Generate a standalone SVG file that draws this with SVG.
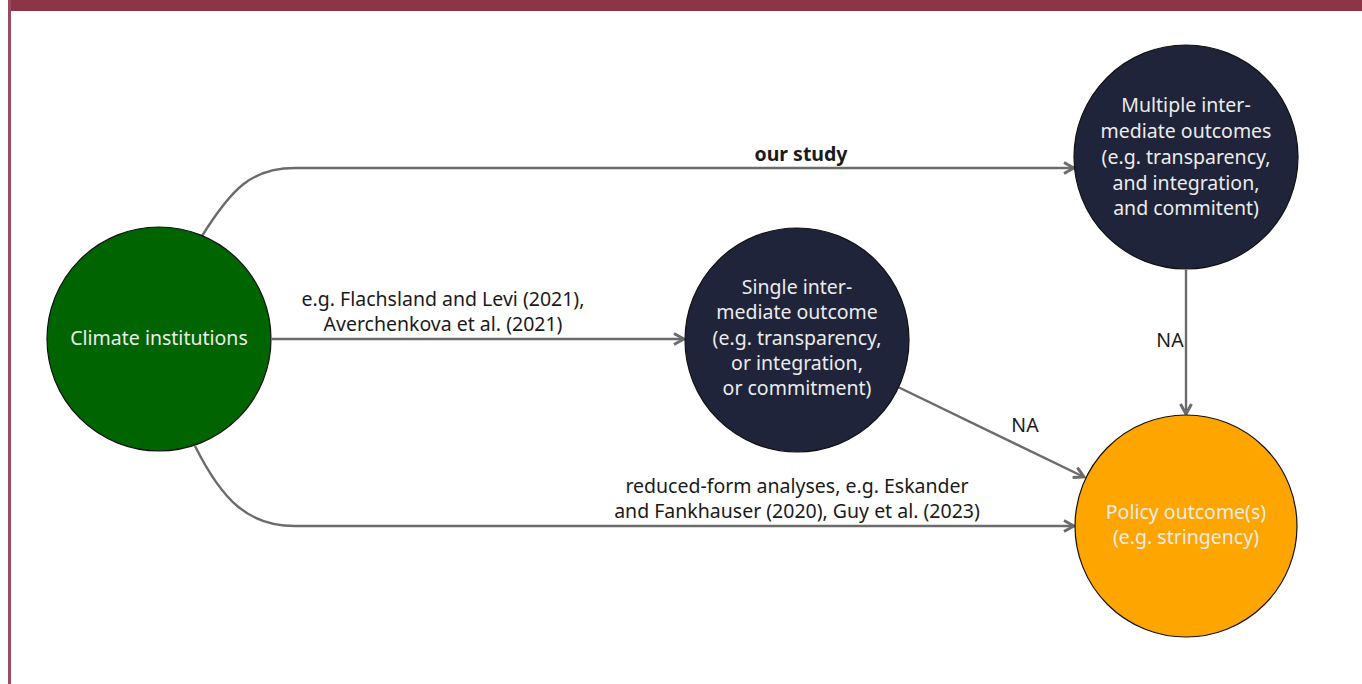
<svg xmlns="http://www.w3.org/2000/svg" width="1362" height="684" viewBox="0 0 1362 684">
<style>
.edge{fill:none;stroke:#6b6b6b;stroke-width:2.4}
.lbl{font-family:"Noto Sans","Open Sans",sans-serif;font-size:19.5px;fill:#1a1a1a;text-anchor:middle}
.nt{font-family:"Noto Sans","Open Sans",sans-serif;font-size:19.5px;fill:#ececec;text-anchor:middle}
.node{stroke:#111;stroke-width:1.2}
</style>
<defs>
<marker id="ah" viewBox="0 0 14 14" refX="12" refY="7" markerWidth="14" markerHeight="14" markerUnits="userSpaceOnUse" orient="auto">
<path d="M2,1.5 L12,7 L2,12.5" fill="none" stroke="#6b6b6b" stroke-width="3" stroke-linejoin="miter"/>
</marker>
</defs>
<rect x="0" y="0" width="1362" height="684" fill="#fff"/>
<rect x="8" y="0" width="1354" height="11" fill="#8b3547"/>
<rect x="8" y="0" width="3" height="684" fill="#9a4a5c"/>
<g id="connectors">
<path class="edge" marker-end="url(#ah)" d="M202,236 C232,188 252,168 295,168 L1074,168"/>
<path class="edge" marker-end="url(#ah)" d="M272,339 L684,339"/>
<path class="edge" marker-end="url(#ah)" d="M195,446 C222,500 248,526 295,526 L1074,526"/>
<path class="edge" marker-end="url(#ah)" d="M898,387 L1084,477"/>
<path class="edge" marker-end="url(#ah)" d="M1186,270 L1186,414"/>
<text class="lbl" x="801" y="161" font-weight="bold">our study</text>
<text class="lbl" x="443" y="306">e.g. Flachsland and Levi (2021),</text>
<text class="lbl" x="443" y="331">Averchenkova et al. (2021)</text>
<text class="lbl" x="1170" y="347">NA</text>
<text class="lbl" x="1025" y="432">NA</text>
<text class="lbl" x="797" y="493">reduced-form analyses, e.g. Eskander</text>
<text class="lbl" x="797" y="518">and Fankhauser (2020), Guy et al. (2023)</text>
</g>
<g id="climate">
<circle class="node" cx="159" cy="339" r="112" fill="#006400"/>
<text class="nt" x="159" y="345">Climate institutions</text>
</g>
<g id="single">
<circle class="node" cx="797" cy="340" r="112" fill="#1f243a"/>
<text class="nt" x="797" y="294">Single inter-</text>
<text class="nt" x="797" y="319">mediate outcome</text>
<text class="nt" x="797" y="345">(e.g. transparency,</text>
<text class="nt" x="797" y="370">or integration,</text>
<text class="nt" x="797" y="395">or commitment)</text>
</g>
<g id="multiple">
<circle class="node" cx="1186" cy="157" r="112" fill="#1f243a"/>
<text class="nt" x="1186" y="112">Multiple inter-</text>
<text class="nt" x="1186" y="138">mediate outcomes</text>
<text class="nt" x="1186" y="164">(e.g. transparency,</text>
<text class="nt" x="1186" y="190">and integration,</text>
<text class="nt" x="1186" y="215">and commitent)</text>
</g>
<g id="policy">
<circle class="node" cx="1186" cy="526" r="111" fill="#ffa500"/>
<text class="nt" x="1186" y="519">Policy outcome(s)</text>
<text class="nt" x="1186" y="544">(e.g. stringency)</text>
</g>
</svg>
